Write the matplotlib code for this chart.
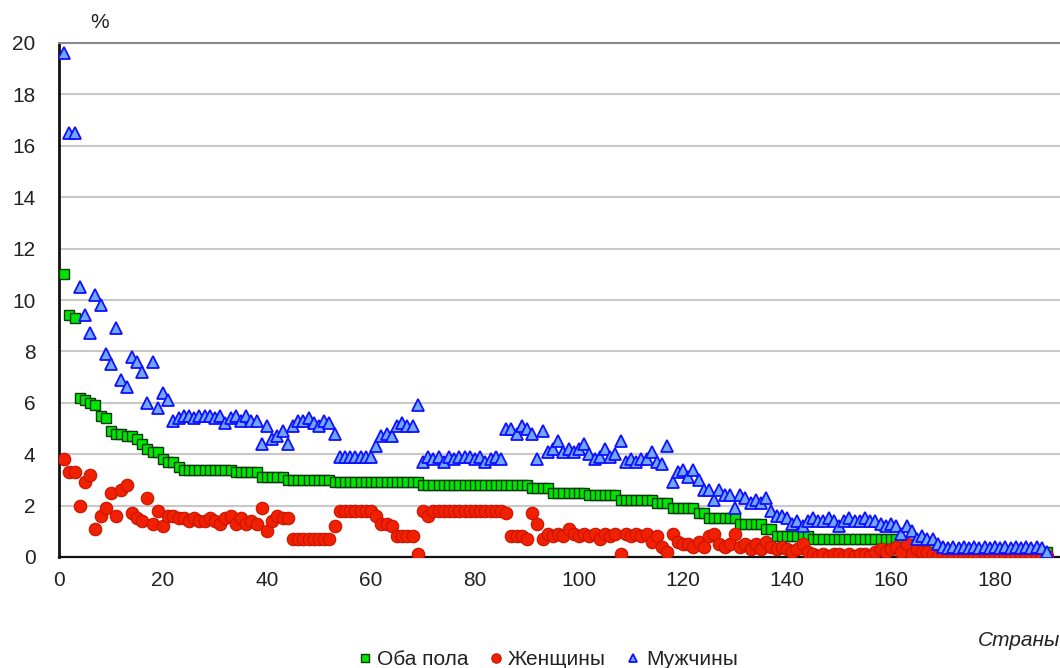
import numpy as np
import matplotlib
matplotlib.use("Agg")
import matplotlib.pyplot as plt

# values, countries ranked by the "both sexes" share
both = [11.0, 9.4, 9.3, 6.2, 6.1, 6.0, 5.9, 5.5, 5.4, 4.9,
        4.8, 4.8, 4.7, 4.7, 4.6, 4.4, 4.2, 4.1, 4.1, 3.8,
        3.7, 3.7, 3.5, 3.4, 3.4, 3.4, 3.4, 3.4, 3.4, 3.4,
        3.4, 3.4, 3.4, 3.3, 3.3, 3.3, 3.3, 3.3, 3.1, 3.1,
        3.1, 3.1, 3.1, 3.0, 3.0, 3.0, 3.0, 3.0, 3.0, 3.0,
        3.0, 3.0, 2.9, 2.9, 2.9, 2.9, 2.9, 2.9, 2.9, 2.9,
        2.9, 2.9, 2.9, 2.9, 2.9, 2.9, 2.9, 2.9, 2.9, 2.8,
        2.8, 2.8, 2.8, 2.8, 2.8, 2.8, 2.8, 2.8, 2.8, 2.8,
        2.8, 2.8, 2.8, 2.8, 2.8, 2.8, 2.8, 2.8, 2.8, 2.8,
        2.7, 2.7, 2.7, 2.7, 2.5, 2.5, 2.5, 2.5, 2.5, 2.5,
        2.5, 2.4, 2.4, 2.4, 2.4, 2.4, 2.4, 2.2, 2.2, 2.2,
        2.2, 2.2, 2.2, 2.2, 2.1, 2.1, 2.1, 1.9, 1.9, 1.9,
        1.9, 1.9, 1.7, 1.7, 1.5, 1.5, 1.5, 1.5, 1.5, 1.5,
        1.3, 1.3, 1.3, 1.3, 1.3, 1.1, 1.1, 0.8, 0.8, 0.8,
        0.8, 0.8, 0.8, 0.8, 0.7, 0.7, 0.7, 0.7, 0.7, 0.7,
        0.7, 0.7, 0.7, 0.7, 0.7, 0.7, 0.7, 0.7, 0.7, 0.7,
        0.7, 0.5, 0.5, 0.5, 0.5, 0.4, 0.4, 0.4, 0.2, 0.2,
        0.2, 0.2, 0.2, 0.2, 0.2, 0.2, 0.2, 0.2, 0.2, 0.2,
        0.2, 0.2, 0.2, 0.2, 0.2, 0.2, 0.2, 0.2, 0.2, 0.2]

women = [3.8, 3.3, 3.3, 2.0, 2.9, 3.2, 1.1, 1.6, 1.9, 2.5,
         1.6, 2.6, 2.8, 1.7, 1.5, 1.4, 2.3, 1.3, 1.8, 1.2,
         1.6, 1.6, 1.5, 1.5, 1.4, 1.5, 1.4, 1.4, 1.5, 1.4,
         1.3, 1.5, 1.6, 1.3, 1.5, 1.3, 1.4, 1.3, 1.9, 1.0,
         1.4, 1.6, 1.5, 1.5, 0.7, 0.7, 0.7, 0.7, 0.7, 0.7,
         0.7, 0.7, 1.2, 1.8, 1.8, 1.8, 1.8, 1.8, 1.8, 1.8,
         1.6, 1.3, 1.3, 1.2, 0.8, 0.8, 0.8, 0.8, 0.1, 1.8,
         1.6, 1.8, 1.8, 1.8, 1.8, 1.8, 1.8, 1.8, 1.8, 1.8,
         1.8, 1.8, 1.8, 1.8, 1.8, 1.7, 0.8, 0.8, 0.8, 0.7,
         1.7, 1.3, 0.7, 0.9, 0.8, 0.9, 0.8, 1.1, 0.9, 0.8,
         0.9, 0.8, 0.9, 0.7, 0.9, 0.8, 0.9, 0.1, 0.9, 0.8,
         0.9, 0.8, 0.9, 0.6, 0.8, 0.4, 0.2, 0.9, 0.6, 0.5,
         0.5, 0.4, 0.6, 0.4, 0.8, 0.9, 0.5, 0.4, 0.5, 0.9,
         0.4, 0.5, 0.3, 0.5, 0.3, 0.6, 0.4, 0.3, 0.4, 0.3,
         0.2, 0.3, 0.5, 0.2, 0.1, 0.05, 0.1, 0.05, 0.1, 0.1,
         0.05, 0.1, 0.05, 0.1, 0.1, 0.05, 0.2, 0.3, 0.2, 0.3,
         0.4, 0.2, 0.5, 0.1, 0.3, 0.2, 0.2, 0.1, 0.05, 0.05,
         0.05, 0.05, 0.05, 0.05, 0.05, 0.05, 0.05, 0.05, 0.05, 0.05,
         0.05, 0.05, 0.05, 0.05, 0.05, 0.05, 0.05, 0.05, 0.05, 0.05]

men = [19.6, 16.5, 16.5, 10.5, 9.4, 8.7, 10.2, 9.8, 7.9, 7.5,
       8.9, 6.9, 6.6, 7.8, 7.6, 7.2, 6.0, 7.6, 5.8, 6.4,
       6.1, 5.3, 5.4, 5.5, 5.5, 5.4, 5.5, 5.5, 5.5, 5.4,
       5.5, 5.2, 5.4, 5.5, 5.3, 5.5, 5.3, 5.3, 4.4, 5.1,
       4.6, 4.7, 4.9, 4.4, 5.1, 5.3, 5.3, 5.4, 5.2, 5.1,
       5.3, 5.2, 4.8, 3.9, 3.9, 3.9, 3.9, 3.9, 3.9, 3.9,
       4.3, 4.7, 4.8, 4.7, 5.1, 5.2, 5.1, 5.1, 5.9, 3.7,
       3.9, 3.8, 3.9, 3.7, 3.9, 3.8, 3.9, 3.9, 3.9, 3.8,
       3.9, 3.7, 3.8, 3.9, 3.8, 5.0, 5.0, 4.8, 5.1, 5.0,
       4.8, 3.8, 4.9, 4.1, 4.2, 4.5, 4.1, 4.2, 4.1, 4.2,
       4.4, 4.0, 3.8, 3.9, 4.2, 3.9, 4.0, 4.5, 3.7, 3.8,
       3.7, 3.8, 3.8, 4.1, 3.7, 3.6, 4.3, 2.9, 3.3, 3.4,
       3.1, 3.4, 3.0, 2.6, 2.6, 2.2, 2.6, 2.4, 2.4, 1.9,
       2.4, 2.3, 2.1, 2.2, 2.1, 2.3, 1.8, 1.6, 1.6, 1.5,
       1.3, 1.4, 1.2, 1.4, 1.5, 1.4, 1.4, 1.5, 1.4, 1.2,
       1.4, 1.5, 1.4, 1.4, 1.5, 1.4, 1.4, 1.3, 1.2, 1.3,
       1.2, 0.9, 1.2, 1.0, 0.7, 0.8, 0.7, 0.7, 0.5, 0.4,
       0.35, 0.4, 0.35, 0.4, 0.35, 0.4, 0.35, 0.4, 0.35, 0.4,
       0.35, 0.4, 0.35, 0.4, 0.35, 0.4, 0.35, 0.4, 0.35, 0.2]

LABELS = ["Оба пола", "Женщины", "Мужчины"]
YTICKS = list(range(0, 21, 2))
XTICKS = list(range(0, 181, 20))

plt.rcParams["font.family"] = ["Liberation Sans", "DejaVu Sans"]

x = np.arange(1, len(both) + 1)

fig = plt.figure(figsize=(10.6, 6.68), dpi=100)
ax = fig.add_axes([59 / 1060, 1 - 557 / 668, 1 - 59 / 1060, 514 / 668])

ax.plot(x, both, "s", ms=7.5, mfc="#00e600", mec="#0a3a0a", mew=1.0,
        label=LABELS[0], zorder=3)
ax.plot(x, women, "o", ms=9, mfc="#f02000", mec="#c81400", mew=0.8,
        label=LABELS[1], zorder=4)
ax.plot(x, men, "^", ms=8.5, mfc="#70a8ff", mec="#1010ff", mew=1.3,
        label=LABELS[2], zorder=5)

ax.set_xlim(0, 192.5)
ax.set_ylim(0, 20)
ax.set_yticks(YTICKS)
ax.set_xticks(XTICKS)
ax.tick_params(length=0, labelsize=15, colors="#222222")
ax.tick_params(axis="y", pad=17)
ax.tick_params(axis="x", pad=10)
ax.yaxis.grid(True, color="#c8c8c8", lw=1.5)
ax.set_axisbelow(True)

ax.spines["right"].set_visible(False)
ax.spines["left"].set_linewidth(2)
ax.spines["left"].set_color("#111111")
ax.spines["bottom"].set_linewidth(1.6)
ax.spines["bottom"].set_color("#111111")
ax.spines["top"].set_linewidth(1.5)
ax.spines["top"].set_color("#8a8a8a")

fig.text(100 / 1060, 1 - 23 / 668, "%", fontsize=15, ha="center", va="center",
         color="#222222")
fig.text(1.0, 1 - 641 / 668, "Страны", fontsize=15, style="italic",
         ha="right", va="center", color="#222222")

leg = fig.legend(loc="lower center", bbox_to_anchor=(548 / 1060, -0.02),
                 ncol=3, frameon=False, fontsize=15, markerscale=0.75,
                 handlelength=0.6, handletextpad=0.3, columnspacing=1.0,
                 borderpad=0.1)
for t in leg.get_texts():
    t.set_color("#222222")

fig.savefig("out.png", dpi=100)
